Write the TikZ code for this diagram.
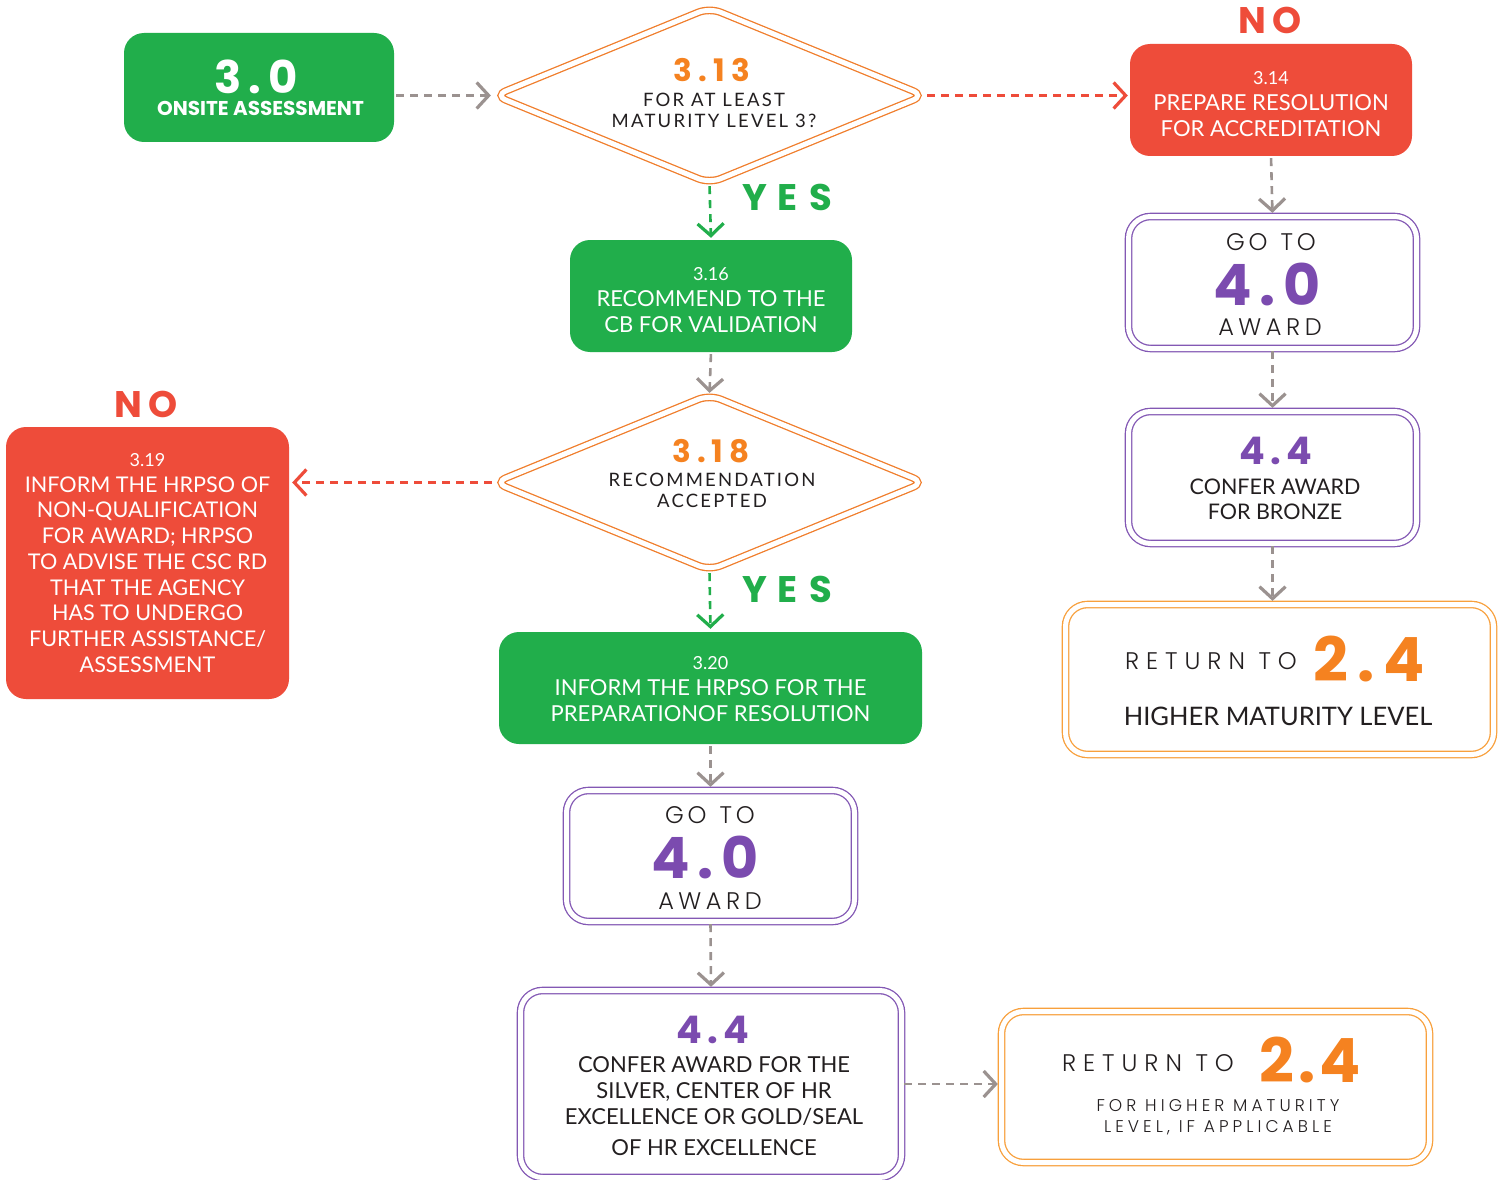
\documentclass[tikz,border=0pt]{standalone}
\usepackage{fontspec}
\setmainfont{Lato}
\newfontfamily\popbold{Poppins}
\newfontfamily\poplight{Poppins Light}
\usetikzlibrary{arrows.meta,shapes.geometric}

\definecolor{fgreen}{HTML}{21AE4B}
\definecolor{fred}{HTML}{EE4C3A}
\definecolor{forange}{HTML}{F58220}
\definecolor{dline}{HTML}{F07D2B}
\definecolor{bline}{HTML}{F8A03C}
\definecolor{fpurple}{HTML}{7B4BAF}
\definecolor{pline}{HTML}{8358B4}
\definecolor{fgray}{HTML}{9B9290}
\definecolor{ink}{HTML}{231F20}

% heavy spaced numerals / labels: size, letter spacing, text
\newcommand\heavy[3]{{\popbold\bfseries\fontsize{#1}{#1}\selectfont\addfontfeature{LetterSpace=#2}#3}}
% thin spaced captions: size, letter spacing, text
\newcommand\thin[3]{{\poplight\fontsize{#1}{#1}\selectfont\addfontfeature{LetterSpace=#2}#3}}
\newcommand\bodyfont{\fontsize{22}{25.6}\selectfont}
% taller first line, to sit the text block a little lower in its box
\newcommand\toppad{\rule{0pt}{21pt}}

\tikzset{
  filled/.style={rectangle, rounded corners=20pt, inner sep=0pt, align=center,
    text=white, font=\bodyfont},
  greenbox/.style={filled, fill=fgreen},
  redbox/.style={filled, fill=fred},
  dblbox/.style={rectangle, rounded corners=22pt, line width=1.3pt, double=white,
    double distance=5pt, inner sep=0pt},
  purplebox/.style={dblbox, draw=pline},
  orangebox/.style={dblbox, draw=bline},
  decision/.style={diamond, draw=dline, line width=1.3pt, double=white,
    double distance=5pt, rounded corners=12pt, inner sep=0pt,
    minimum width=430pt, minimum height=176pt},
  txt/.style={inner sep=0pt, align=center, text=ink},
  difont/.style={font={\fontsize{18.5}{21}\selectfont\addfontfeature{LetterSpace=12}}},
  flowline/.style={line width=2.6pt, dash pattern=on 8pt off 6pt, shorten <=2pt,
    -{Straight Barb[length=12pt,width=26pt,line width=3.2pt]}},
  grayflow/.style={flowline, draw=fgray},
  redflow/.style={flowline, draw=fred},
  greenflow/.style={flowline, draw=fgreen},
}

\begin{document}
\begin{tikzpicture}[x=1pt,y=-1pt]
\useasboundingbox (0,0) rectangle (1502,1180);
\fill[white] (0,0) rectangle (1502,1180);

% ---- boxes ----
\node[greenbox, minimum width=270pt, minimum height=109pt] (s30) at (259,87.5) {};
\node[txt, text=white] (s30num) at (256,77) {\heavy{45}{15}{3.0}};
\node[txt, text=white] (s30lbl) at (260.5,108) {{\popbold\bfseries\fontsize{20}{20}\selectfont ONSITE ASSESSMENT}};

\node[decision] (d313) at (709.5,95.5) {};
\node[txt, text=forange] (d313num) at (712,70) {\heavy{31}{20}{3.13}};
\node[txt, difont] (d313lbl) at (714,110.5)
  {FOR AT LEAST\\MATURITY LEVEL 3?};

\node[redbox, minimum width=282pt, minimum height=112pt] (s314) at (1271,100)
  {{\fontsize{18}{25.6}\selectfont\toppad 3.14}\\PREPARE RESOLUTION\\FOR ACCREDITATION};
\node[txt, text=fred] (no1) at (1270,20) {\heavy{37}{16}{NO}};

\node[txt, text=fgreen] (yes1) at (787,197) {\heavy{37}{30}{YES}};
\node[greenbox, minimum width=282pt, minimum height=112pt] (s316) at (711,296)
  {{\fontsize{18}{25.6}\selectfont\toppad 3.16}\\RECOMMEND TO THE\\CB FOR VALIDATION};

\node[decision] (d318) at (709.5,482.5) {};
\node[txt, text=forange] (d318num) at (711,451) {\heavy{31}{20}{3.18}};
\node[txt, difont] (d318lbl) at (712,490.5)
  {RECOMMENDATION\\ACCEPTED};

\node[txt, text=fred] (no2) at (146,404) {\heavy{37}{16}{NO}};
\node[redbox, minimum width=283pt, minimum height=272pt, font={\fontsize{21.6}{25.75}\selectfont}] (s319) at (147.5,563)
  {{\fontsize{18}{25.75}\selectfont 3.19}\\INFORM THE HRPSO OF\\NON-QUALIFICATION\\FOR AWARD; HRPSO\\
   TO ADVISE THE CSC RD\\THAT THE AGENCY\\HAS TO UNDERGO\\FURTHER ASSISTANCE/\\ASSESSMENT};

\node[txt, text=fgreen] (yes2) at (787,589) {\heavy{37}{30}{YES}};
\node[greenbox, minimum width=423pt, minimum height=112pt] (s320) at (710.5,688)
  {{\fontsize{18}{25.6}\selectfont\rule{0pt}{15pt}3.20}\\INFORM THE HRPSO FOR THE\\PREPARATIONOF RESOLUTION};

% centre column: award
\node[purplebox, minimum width=288pt, minimum height=131pt] (g40a) at (710.5,856) {};
\node[txt] (g40agoto) at (710,815) {\thin{24}{16}{GO\hspace{13pt}TO}};
\node[txt, text=fpurple] (g40anum) at (705,857) {\heavy{57}{13}{4.0}};
\node[txt] (g40aaward) at (710,901) {\thin{24}{19}{AWARD}};

\node[purplebox, minimum width=381pt, minimum height=187pt] (c44a) at (711,1084) {};
\node[txt, text=fpurple] (c44anum) at (713,1030) {\heavy{38}{14}{4.4}};
\node[txt, font={\fontsize{22}{26}\selectfont}] (c44albl) at (714,1106.5)
  {CONFER AWARD FOR THE\\SILVER, CENTER OF HR\\EXCELLENCE OR GOLD/SEAL\\[5pt]OF HR EXCELLENCE};

\node[orangebox, minimum width=428pt, minimum height=151pt] (r24b) at (1215.5,1087) {};
\node[txt] (r24bret) at (1148,1063) {\thin{24}{29}{RETURN TO}};
\node[txt, text=forange] (r24bnum) at (1310,1060) {\heavy{61}{6}{2.4}};
\node[txt, font={\poplight\fontsize{17}{21}\selectfont\addfontfeature{LetterSpace=24}}] (r24blbl) at (1218,1117.5)
  {FOR HIGHER MATURITY\\LEVEL, IF APPLICABLE};

% right column
\node[purplebox, minimum width=288pt, minimum height=132pt] (g40b) at (1272.5,282.5) {};
\node[txt] (g40bgoto) at (1271,242) {\thin{24}{16}{GO\hspace{13pt}TO}};
\node[txt, text=fpurple] (g40bnum) at (1267,284) {\heavy{57}{13}{4.0}};
\node[txt] (g40baward) at (1270,327) {\thin{24}{19}{AWARD}};

\node[purplebox, minimum width=288pt, minimum height=132pt] (c44b) at (1272.5,477.5) {};
\node[txt, text=fpurple] (c44bnum) at (1276,451) {\heavy{38}{14}{4.4}};
\node[txt, font={\fontsize{21.5}{25}\selectfont}] (c44blbl) at (1275,499.5) {CONFER AWARD\\FOR BRONZE};

\node[orangebox, minimum width=428pt, minimum height=150pt] (r24a) at (1279.5,679.5) {};
\node[txt] (r24aret) at (1211,661) {\thin{24}{29}{RETURN TO}};
\node[txt, text=forange] (r24anum) at (1369,659) {\heavy{61}{15}{2.4}};
\node[txt, font={\fontsize{25.5}{25.5}\selectfont}] (r24albl) at (1278,716) {HIGHER MATURITY LEVEL};

% ---- connectors ----
\draw[grayflow, shorten >=3pt] (s30.east |- d313.west) -- (d313.west);
\draw[redflow, shorten >=2pt] (d313.east) -- (d313.east -| s314.west);
\draw[greenflow, shorten >=2pt] (d313.south) -- (s316.north);
\draw[grayflow, shorten >=1pt] (s316.south) -- (d318.north);
\draw[redflow, shorten >=3pt] (d318.west) -- (d318.west -| s319.east);
\draw[greenflow, shorten >=3pt] (d318.south) -- (s320.north);
\draw[grayflow, shorten >=3pt] (s320.south) -- (g40a.north);
\draw[grayflow, shorten >=3pt] (g40a.south) -- (c44a.north);
\draw[grayflow, shorten >=3pt] (c44a.east) -- (c44a.east -| r24b.west);

\draw[grayflow, shorten >=3pt] (s314.south) -- (g40b.north);
\draw[grayflow, shorten >=3pt] (g40b.south) -- (c44b.north);
\draw[grayflow, shorten >=3pt] (c44b.south) -- (c44b.south |- r24a.north);
\end{tikzpicture}
\end{document}
